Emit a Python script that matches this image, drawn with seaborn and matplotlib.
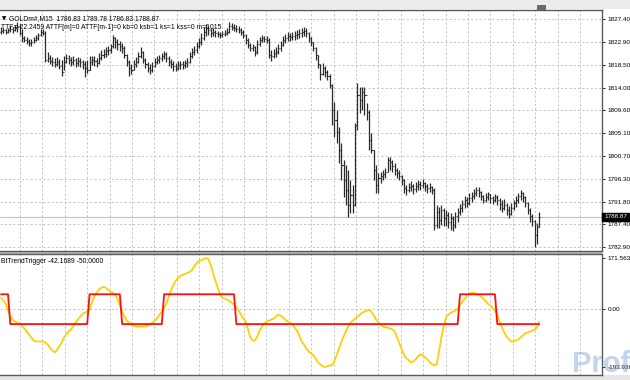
import numpy as np
import pandas as pd
import matplotlib
matplotlib.use("Agg")
import matplotlib.pyplot as plt
import seaborn as sns
from matplotlib.patches import Rectangle

# ---------------- data (GOLDm#, M15) ----------------
closes = [
    1825.1, 1825.3, 1824.9, 1825.3, 1825.5, 1825.3, 1825.6, 1826.0, 1824.7, 1823.7,
    1823.3, 1823.1, 1822.7, 1822.9, 1823.3, 1823.7, 1824.3, 1824.9, 1824.7, 1819.4,
    1819.8, 1819.2, 1819.0, 1818.6, 1819.0, 1818.2, 1817.1, 1819.0, 1819.8, 1819.4,
    1819.0, 1819.4, 1818.8, 1819.2, 1819.0, 1818.6, 1817.9, 1817.5, 1819.0, 1819.4,
    1819.2, 1818.8, 1819.8, 1820.4, 1820.6, 1821.2, 1821.4, 1822.1, 1823.7, 1822.9,
    1822.5, 1822.1, 1821.7, 1820.4, 1819.0, 1817.9, 1817.5, 1818.6, 1819.0, 1820.2,
    1821.0, 1819.4, 1818.6, 1817.9, 1817.5, 1818.2, 1819.0, 1819.4, 1819.8, 1820.2,
    1820.6, 1819.8, 1819.0, 1818.6, 1818.2, 1817.9, 1818.4, 1818.6, 1818.4, 1818.8,
    1819.0, 1820.2, 1821.0, 1821.4, 1822.1, 1822.9, 1823.7, 1824.9, 1825.6, 1825.3,
    1824.7, 1824.9, 1824.7, 1824.5, 1824.3, 1824.5, 1824.7, 1824.9, 1826.0, 1825.8,
    1825.6, 1825.5, 1825.3, 1824.9, 1824.3, 1823.3, 1822.3, 1821.7, 1821.9, 1821.0,
    1822.5, 1823.3, 1823.7, 1823.5, 1823.3, 1820.4, 1820.2, 1820.8, 1821.0, 1821.7,
    1822.3, 1823.3, 1823.7, 1824.1, 1823.9, 1824.1, 1824.3, 1824.5, 1824.7, 1824.9,
    1825.1, 1824.7, 1823.7, 1822.9, 1821.7, 1820.4, 1818.6, 1816.7, 1817.9, 1817.1,
    1816.3, 1814.5, 1809.7, 1807.7, 1805.4, 1801.9, 1799.0, 1796.0, 1794.1, 1791.2,
    1793.1, 1791.2, 1806.8, 1812.6, 1811.6, 1813.2, 1812.6, 1809.3, 1803.8, 1801.9,
    1798.0, 1795.1, 1796.4, 1796.8, 1797.2, 1797.6, 1799.9, 1799.5, 1798.8, 1798.0,
    1797.4, 1796.8, 1796.0, 1794.5, 1794.1, 1794.7, 1794.9, 1794.3, 1794.9, 1795.3,
    1795.1, 1795.5, 1794.9, 1794.5, 1794.7, 1794.1, 1787.3, 1789.8, 1788.2, 1790.2,
    1788.6, 1789.2, 1787.8, 1788.6, 1787.3, 1789.0, 1789.8, 1790.6, 1791.4, 1792.1,
    1791.6, 1792.5, 1792.9, 1793.5, 1794.1, 1793.7, 1792.9, 1792.1, 1792.7, 1793.3,
    1792.5, 1792.1, 1792.7, 1792.1, 1791.4, 1790.6, 1791.2, 1790.2, 1789.4, 1790.6,
    1791.6, 1792.1, 1792.9, 1793.5, 1792.7, 1791.6, 1790.2, 1789.0, 1788.0, 1785.3,
    1786.83, 1788.87,
]
opens = [
    1824.8, 1825.1, 1825.3, 1824.9, 1825.3, 1825.5, 1825.3, 1825.6, 1826.0, 1824.7,
    1823.7, 1823.3, 1823.1, 1822.7, 1822.9, 1823.3, 1823.7, 1824.3, 1824.9, 1824.7,
    1819.4, 1819.8, 1819.2, 1819.0, 1818.6, 1819.0, 1818.2, 1817.1, 1819.0, 1819.8,
    1819.4, 1819.0, 1819.4, 1818.8, 1819.2, 1819.0, 1818.6, 1817.9, 1817.5, 1819.0,
    1819.4, 1819.2, 1818.8, 1819.8, 1820.4, 1820.6, 1821.2, 1821.4, 1822.1, 1823.7,
    1822.9, 1822.5, 1822.1, 1821.7, 1820.4, 1819.0, 1817.9, 1817.5, 1818.6, 1819.0,
    1820.2, 1821.0, 1819.4, 1818.6, 1817.9, 1817.5, 1818.2, 1819.0, 1819.4, 1819.8,
    1820.2, 1820.6, 1819.8, 1819.0, 1818.6, 1818.2, 1817.9, 1818.4, 1818.6, 1818.4,
    1818.8, 1819.0, 1820.2, 1821.0, 1821.4, 1822.1, 1822.9, 1823.7, 1824.9, 1825.6,
    1825.3, 1824.7, 1824.9, 1824.7, 1824.5, 1824.3, 1824.5, 1824.7, 1824.9, 1826.0,
    1825.8, 1825.6, 1825.5, 1825.3, 1824.9, 1824.3, 1823.3, 1822.3, 1821.7, 1821.9,
    1821.0, 1822.5, 1823.3, 1823.7, 1823.5, 1823.3, 1820.4, 1820.2, 1820.8, 1821.0,
    1821.7, 1822.3, 1823.3, 1823.7, 1824.1, 1823.9, 1824.1, 1824.3, 1824.5, 1824.7,
    1824.9, 1825.1, 1824.7, 1823.7, 1822.9, 1821.7, 1820.4, 1818.6, 1816.7, 1817.9,
    1817.1, 1816.3, 1814.5, 1809.7, 1807.7, 1805.4, 1801.9, 1799.0, 1796.0, 1794.1,
    1791.2, 1793.1, 1791.2, 1806.8, 1812.6, 1811.6, 1813.2, 1812.6, 1809.3, 1803.8,
    1801.9, 1798.0, 1795.1, 1796.4, 1796.8, 1797.2, 1797.6, 1799.9, 1799.5, 1798.8,
    1798.0, 1797.4, 1796.8, 1796.0, 1794.5, 1794.1, 1794.7, 1794.9, 1794.3, 1794.9,
    1795.3, 1795.1, 1795.5, 1794.9, 1794.5, 1794.7, 1794.1, 1787.3, 1789.8, 1788.2,
    1790.2, 1788.6, 1789.2, 1787.8, 1788.6, 1787.3, 1789.0, 1789.8, 1790.6, 1791.4,
    1792.1, 1791.6, 1792.5, 1792.9, 1793.5, 1794.1, 1793.7, 1792.9, 1792.1, 1792.7,
    1793.3, 1792.5, 1792.1, 1792.7, 1792.1, 1791.4, 1790.6, 1791.2, 1790.2, 1789.4,
    1790.6, 1791.6, 1792.1, 1792.9, 1793.5, 1792.7, 1791.6, 1790.2, 1789.0, 1788.0,
    1785.3, 1786.83,
]
highs = [
    1825.8, 1825.6, 1825.4, 1825.6, 1826.0, 1825.8, 1826.2, 1826.8, 1826.4, 1825.5,
    1824.1, 1823.9, 1823.5, 1823.5, 1823.9, 1824.3, 1824.7, 1825.5, 1825.5, 1825.1,
    1821.0, 1820.4, 1820.0, 1819.8, 1820.0, 1819.6, 1819.4, 1820.2, 1820.6, 1820.4,
    1820.0, 1820.2, 1819.8, 1820.0, 1819.8, 1819.4, 1819.2, 1819.4, 1820.2, 1820.2,
    1820.2, 1819.8, 1820.8, 1821.4, 1821.6, 1822.0, 1822.1, 1822.5, 1824.3, 1823.9,
    1823.5, 1823.1, 1822.7, 1822.1, 1820.6, 1819.4, 1818.6, 1819.4, 1820.0, 1821.0,
    1821.9, 1821.2, 1819.8, 1819.0, 1818.6, 1819.0, 1819.8, 1820.2, 1820.4, 1820.8,
    1821.2, 1821.0, 1820.2, 1819.6, 1819.2, 1818.8, 1819.2, 1819.2, 1819.2, 1819.4,
    1819.8, 1821.0, 1821.7, 1822.1, 1822.9, 1823.7, 1824.7, 1825.8, 1826.4, 1826.0,
    1825.6, 1825.6, 1825.3, 1825.1, 1824.9, 1825.1, 1825.3, 1825.6, 1826.8, 1826.6,
    1826.4, 1826.2, 1826.0, 1825.6, 1825.3, 1824.5, 1823.7, 1822.7, 1822.5, 1822.1,
    1823.3, 1823.9, 1824.3, 1824.1, 1824.1, 1823.7, 1821.4, 1821.6, 1821.9, 1822.5,
    1823.1, 1824.1, 1824.5, 1824.9, 1824.7, 1824.9, 1825.1, 1825.3, 1825.5, 1825.6,
    1825.8, 1825.6, 1824.9, 1823.9, 1822.9, 1821.9, 1820.4, 1818.6, 1818.8, 1818.2,
    1817.5, 1816.7, 1814.7, 1811.2, 1809.7, 1806.4, 1803.3, 1799.9, 1799.0, 1798.0,
    1796.0, 1795.1, 1807.1, 1814.9, 1814.2, 1814.2, 1814.2, 1811.0, 1809.7, 1805.2,
    1801.9, 1799.0, 1797.4, 1797.6, 1798.0, 1798.4, 1800.5, 1800.5, 1799.9, 1799.3,
    1798.4, 1798.0, 1797.0, 1796.2, 1795.1, 1795.5, 1795.8, 1795.3, 1795.6, 1796.0,
    1795.8, 1796.2, 1795.6, 1795.3, 1795.5, 1794.9, 1794.5, 1791.2, 1790.8, 1791.2,
    1790.6, 1790.2, 1789.8, 1789.6, 1789.0, 1789.8, 1790.6, 1791.4, 1792.1, 1792.9,
    1792.7, 1793.5, 1793.7, 1794.3, 1794.7, 1794.7, 1793.9, 1793.1, 1793.5, 1793.7,
    1793.3, 1792.9, 1793.3, 1793.1, 1792.5, 1792.1, 1792.3, 1791.6, 1791.0, 1791.6,
    1792.1, 1792.9, 1793.5, 1794.1, 1793.7, 1792.9, 1791.8, 1790.6, 1789.4, 1788.3,
    1787.7, 1789.78,
]
lows = [
    1824.5, 1824.7, 1824.5, 1824.7, 1824.9, 1824.7, 1825.1, 1824.9, 1824.3, 1822.9,
    1822.9, 1822.5, 1822.1, 1822.1, 1822.7, 1823.1, 1823.3, 1824.1, 1824.3, 1819.0,
    1819.0, 1818.6, 1818.2, 1818.0, 1818.2, 1817.7, 1816.3, 1817.5, 1818.8, 1818.6,
    1818.2, 1818.4, 1818.0, 1818.2, 1818.0, 1817.7, 1816.1, 1816.9, 1817.5, 1818.4,
    1818.2, 1818.0, 1818.6, 1819.4, 1819.8, 1820.0, 1820.4, 1820.8, 1821.7, 1821.7,
    1821.4, 1821.2, 1820.8, 1819.8, 1818.2, 1816.3, 1816.7, 1817.5, 1818.0, 1818.8,
    1819.8, 1818.8, 1817.9, 1817.1, 1816.7, 1817.1, 1818.0, 1818.6, 1818.8, 1819.2,
    1819.6, 1819.0, 1818.2, 1817.9, 1817.3, 1817.3, 1817.5, 1817.7, 1817.7, 1817.9,
    1818.0, 1818.8, 1819.8, 1820.4, 1820.8, 1821.7, 1822.3, 1823.3, 1824.1, 1824.3,
    1823.9, 1824.1, 1823.9, 1823.9, 1823.7, 1823.9, 1824.1, 1824.3, 1824.7, 1825.3,
    1825.1, 1824.9, 1824.7, 1824.3, 1823.7, 1822.5, 1821.7, 1821.2, 1821.2, 1820.2,
    1820.6, 1822.1, 1822.9, 1822.9, 1822.7, 1819.8, 1819.2, 1819.8, 1820.0, 1820.6,
    1821.2, 1822.1, 1822.7, 1823.1, 1823.1, 1823.3, 1823.3, 1823.5, 1823.7, 1823.9,
    1824.1, 1823.9, 1822.9, 1822.1, 1821.2, 1819.4, 1817.9, 1815.5, 1816.5, 1816.1,
    1815.5, 1813.9, 1806.8, 1804.4, 1803.2, 1799.3, 1796.0, 1792.7, 1791.2, 1788.8,
    1789.6, 1789.6, 1791.0, 1805.8, 1809.1, 1809.7, 1808.7, 1807.7, 1801.9, 1801.3,
    1796.0, 1793.5, 1793.5, 1795.4, 1796.0, 1796.4, 1797.6, 1798.0, 1797.6, 1797.0,
    1796.4, 1796.0, 1795.1, 1793.5, 1793.1, 1793.7, 1793.9, 1793.3, 1793.7, 1794.1,
    1794.1, 1794.5, 1793.9, 1793.5, 1793.7, 1793.3, 1786.3, 1786.7, 1786.7, 1787.3,
    1787.1, 1787.1, 1786.7, 1786.3, 1786.1, 1786.7, 1787.9, 1789.2, 1789.8, 1790.6,
    1790.8, 1791.2, 1791.8, 1792.3, 1792.9, 1792.7, 1792.1, 1791.6, 1791.8, 1792.1,
    1791.6, 1791.4, 1791.8, 1791.2, 1790.2, 1789.8, 1790.2, 1789.2, 1788.6, 1789.2,
    1790.2, 1790.8, 1791.6, 1792.1, 1791.8, 1790.8, 1789.4, 1787.9, 1787.1, 1782.9,
    1783.5, 1786.83,
]
# BtTrendTrigger: trend line (yellow) and trigger (red)
trend = [
    38.3, 28.3, 18.3, -5.0, -25.0, -35.0, -41.6, -45.0, -48.3, -54.9,
    -64.9, -74.9, -84.9, -94.9, -104.9, -108.2, -108.2, -108.2, -108.2, -111.6,
    -118.2, -128.2, -138.2, -144.9, -138.2, -124.9, -111.6, -94.9, -84.9, -74.9,
    -68.3, -58.3, -45.0, -35.0, -25.0, -15.0, -11.7, -8.3, -1.7, 21.6,
    41.6, 54.9, 64.9, 71.6, 74.9, 71.6, 64.9, 58.3, 54.9, 48.3,
    35.0, 15.0, -8.3, -25.0, -38.3, -45.0, -51.6, -54.9, -58.3, -58.3,
    -58.3, -58.3, -58.3, -54.9, -51.6, -45.0, -38.3, -31.6, -18.3, -8.3,
    5.0, 18.3, 41.6, 64.9, 81.6, 94.9, 104.9, 111.6, 114.9, 118.2,
    121.5, 124.9, 131.5, 144.9, 154.8, 161.5, 164.8, 168.2, 171.5635, 168.2,
    148.2, 121.5, 94.9, 71.6, 51.6, 38.3, 35.0, 31.6, 28.3, 21.6,
    15.0, 5.0, -5.0, -18.3, -31.6, -41.6, -68.3, -94.9, -104.9, -104.9,
    -91.6, -71.6, -58.3, -48.3, -41.6, -38.3, -35.0, -31.6, -25.0, -18.3,
    -21.6, -28.3, -35.0, -41.6, -45.0, -51.6, -61.6, -71.6, -88.2, -108.2,
    -118.2, -131.5, -141.5, -148.2, -154.8, -164.8, -178.2, -184.8, -191.5, -193.936,
    -191.5, -188.2, -188.2, -174.8, -154.8, -134.9, -111.6, -91.6, -74.9, -58.3,
    -45.0, -38.3, -31.6, -25.0, -18.3, -11.7, -8.3, -5.0, -1.7, -8.3,
    -21.6, -35.0, -45.0, -51.6, -58.3, -61.6, -61.6, -64.9, -68.3, -74.9,
    -94.9, -114.9, -134.9, -154.8, -164.8, -171.5, -178.2, -174.8, -168.2, -158.2,
    -151.5, -154.8, -161.5, -168.2, -178.2, -184.8, -188.2, -184.8, -141.5, -94.9,
    -58.3, -28.3, -18.3, -11.7, -8.3, -5.0, 1.7, 15.0, 25.0, 35.0,
    45.0, 51.6, 54.9, 54.9, 51.6, 48.3, 41.6, 35.0, 28.3, 18.3,
    11.7, 5.0, -5.0, -18.3, -41.6, -61.6, -78.3, -91.6, -101.6, -108.2,
    -108.2, -104.9, -101.6, -94.9, -88.2, -81.6, -78.3, -74.9, -71.6, -68.3,
    -61.6, -42.1689,
]
trigger = ([50.0] * 4 + [-50.0] * 34 + [50.0] * 14 + [-50.0] * 18 +
           [50.0] * 31 + [-50.0] * 96 + [50.0] * 16 + [-50.0] * 19)

price_ticks = [1827.40, 1822.90, 1818.50, 1814.00, 1809.60, 1805.10,
               1800.70, 1796.30, 1791.80, 1787.40, 1782.90]
ind_ticks = [171.5635, 0.0, -193.936]
ind_labels = ["171.5635", "0.00", "-193.936"]
last_price = 1788.87
header = "GOLDm#,M15  1786.83 1789.78 1786.83 1788.87"
info = "TTF=-22.2459 ATTF[m]=0 ATTF[m-1]=0 kb=0 ksb=1 ks=1 kss=0 m=1015"
ind_title = "BtTrendTrigger -42.1689 -50.0000"

# ---------------- styling / layout ----------------
sns.set_theme(style="white")
plt.rcParams['font.family'] = ['Liberation Sans', 'DejaVu Sans']

W, H = 630, 380
BAR_PX = 2.33          # pixels per bar
X0_PX = 1.0            # pixel of the first bar
AX_RIGHT = 602

fig = plt.figure(figsize=(W / 100, H / 100), dpi=100)
fig.patch.set_facecolor("white")


def rect(px0, py0, px1, py1):
    return [px0 / W, 1 - py1 / H, (px1 - px0) / W, (py1 - py0) / H]


ax = fig.add_axes(rect(0, 10, AX_RIGHT, 251))
ax2 = fig.add_axes(rect(0, 254, AX_RIGHT, 375))

n = len(closes)
idx = np.arange(n)
df = pd.DataFrame({"bar": idx, "open": opens, "high": highs, "low": lows,
                   "close": closes, "trend": trend, "trigger": trigger})

xmin = -X0_PX / BAR_PX
xmax = (AX_RIGHT - X0_PX) / BAR_PX
grid_x = [(px - X0_PX) / BAR_PX for px in np.arange(20, AX_RIGHT, 22.4)]

grid_kw = dict(color="#c4c4c4", linestyle=(0, (2.2, 2.2)), linewidth=0.7)
bar_col = "#2b2b2b"

# ---- price panel ----
ax.set_xlim(xmin, xmax)
ax.set_ylim(1831.1 - 0.1948 * 251, 1831.1 - 0.1948 * 10)
for gx in grid_x:
    ax.axvline(gx, zorder=0, **grid_kw)
for gy in price_ticks:
    ax.axhline(gy, zorder=0, **grid_kw)
ax.axhline(last_price, color="#c0c0c0", linewidth=0.8, zorder=0.5)

ax.vlines(df["bar"], df["low"], df["high"], color=bar_col, linewidth=0.9,
          capstyle="butt", zorder=2)
ax.hlines(df["open"], df["bar"] - 0.45, df["bar"], color=bar_col,
          linewidth=0.8, zorder=2)
ax.hlines(df["close"], df["bar"], df["bar"] + 0.45, color=bar_col,
          linewidth=0.8, zorder=2)

ax.set_xticks([])
ax.yaxis.tick_right()
ax.set_yticks(price_ticks)
ax.set_yticklabels([f"{v:.2f}" for v in price_ticks])
ax.tick_params(axis="y", right=True, length=2.5, width=0.6, pad=1.5,
               labelsize=4.6, colors="#000000")
ax.spines["left"].set_visible(False)
for s in ["right", "top", "bottom"]:
    ax.spines[s].set_color("#5a5a5a")
    ax.spines[s].set_linewidth(1.0)

ax.text(2 / AX_RIGHT, 0.975, "\u25BC", transform=ax.transAxes, fontsize=4,
        va="top", ha="left", color="#000000", family=["DejaVu Sans"])
ax.text(9 / AX_RIGHT, 0.978, header, transform=ax.transAxes, fontsize=4.9,
        va="top", ha="left", color="#000000")
ax.text(0.002, 0.943, info, transform=ax.transAxes, fontsize=4.9,
        va="top", ha="left", color="#000000")

# current price marker
ax.annotate(f"{last_price:.2f}", xy=(1.0, last_price),
            xycoords=("axes fraction", "data"), xytext=(1.5, 0),
            textcoords="offset points", fontsize=4.6, color="white",
            va="center", ha="left",
            bbox=dict(boxstyle="square,pad=0.25", fc="black", ec="black"),
            annotation_clip=False)

# ---- indicator panel ----
ax2.set_xlim(xmin, xmax)
ax2.set_ylim(-193.936 - 8 * 3.353, 171.5635 + 4 * 3.353)
for gx in grid_x:
    ax2.axvline(gx, zorder=0, **grid_kw)
ax2.axhline(0, zorder=0, **grid_kw)

sns.lineplot(data=df, x="bar", y="trend", ax=ax2, color="#FFD000",
             linewidth=1.3, zorder=3)
sns.lineplot(data=df, x="bar", y="trigger", ax=ax2, color="#FF1010",
             linewidth=1.3, zorder=4)
ax2.set_xlabel("")
ax2.set_ylabel("")
ax2.set_xticks([])
ax2.yaxis.tick_right()
ax2.set_yticks(ind_ticks)
ax2.set_yticklabels(ind_labels)
ax2.tick_params(axis="y", right=True, length=2.5, width=0.6, pad=1.5,
                labelsize=4.6, colors="#000000")
ax2.spines["left"].set_visible(False)
for s in ["right", "top", "bottom"]:
    ax2.spines[s].set_color("#5a5a5a")
    ax2.spines[s].set_linewidth(1.0)
ax2.text(0.002, 0.965, ind_title, transform=ax2.transAxes, fontsize=4.9,
         va="top", ha="left", color="#000000")

# ---- window chrome ----
fig.patches.append(Rectangle((0, 1 - 9 / H), 1, 9 / H, transform=fig.transFigure,
                             facecolor="#ececec", edgecolor="none", zorder=-1))
fig.patches.append(Rectangle((537 / W, 1 - 10 / H), 9 / W, 5 / H,
                             transform=fig.transFigure, facecolor="#6a6a6a",
                             edgecolor="none"))
fig.patches.append(Rectangle((0, 1 - 254 / H), AX_RIGHT / W, 3 / H,
                             transform=fig.transFigure, facecolor="#b8b8b8",
                             edgecolor="none", zorder=-1))
fig.patches.append(Rectangle((0, 0), 1, 5 / H, transform=fig.transFigure,
                             facecolor="#e6e6e6", edgecolor="none", zorder=-1))

# watermark
fig.text(572 / W, 2 / H, "Prof-FX", fontsize=21, fontweight="bold",
         color="#7fa3cf", alpha=0.45, ha="left", va="bottom", zorder=0)

fig.savefig("out.png", dpi=100)
